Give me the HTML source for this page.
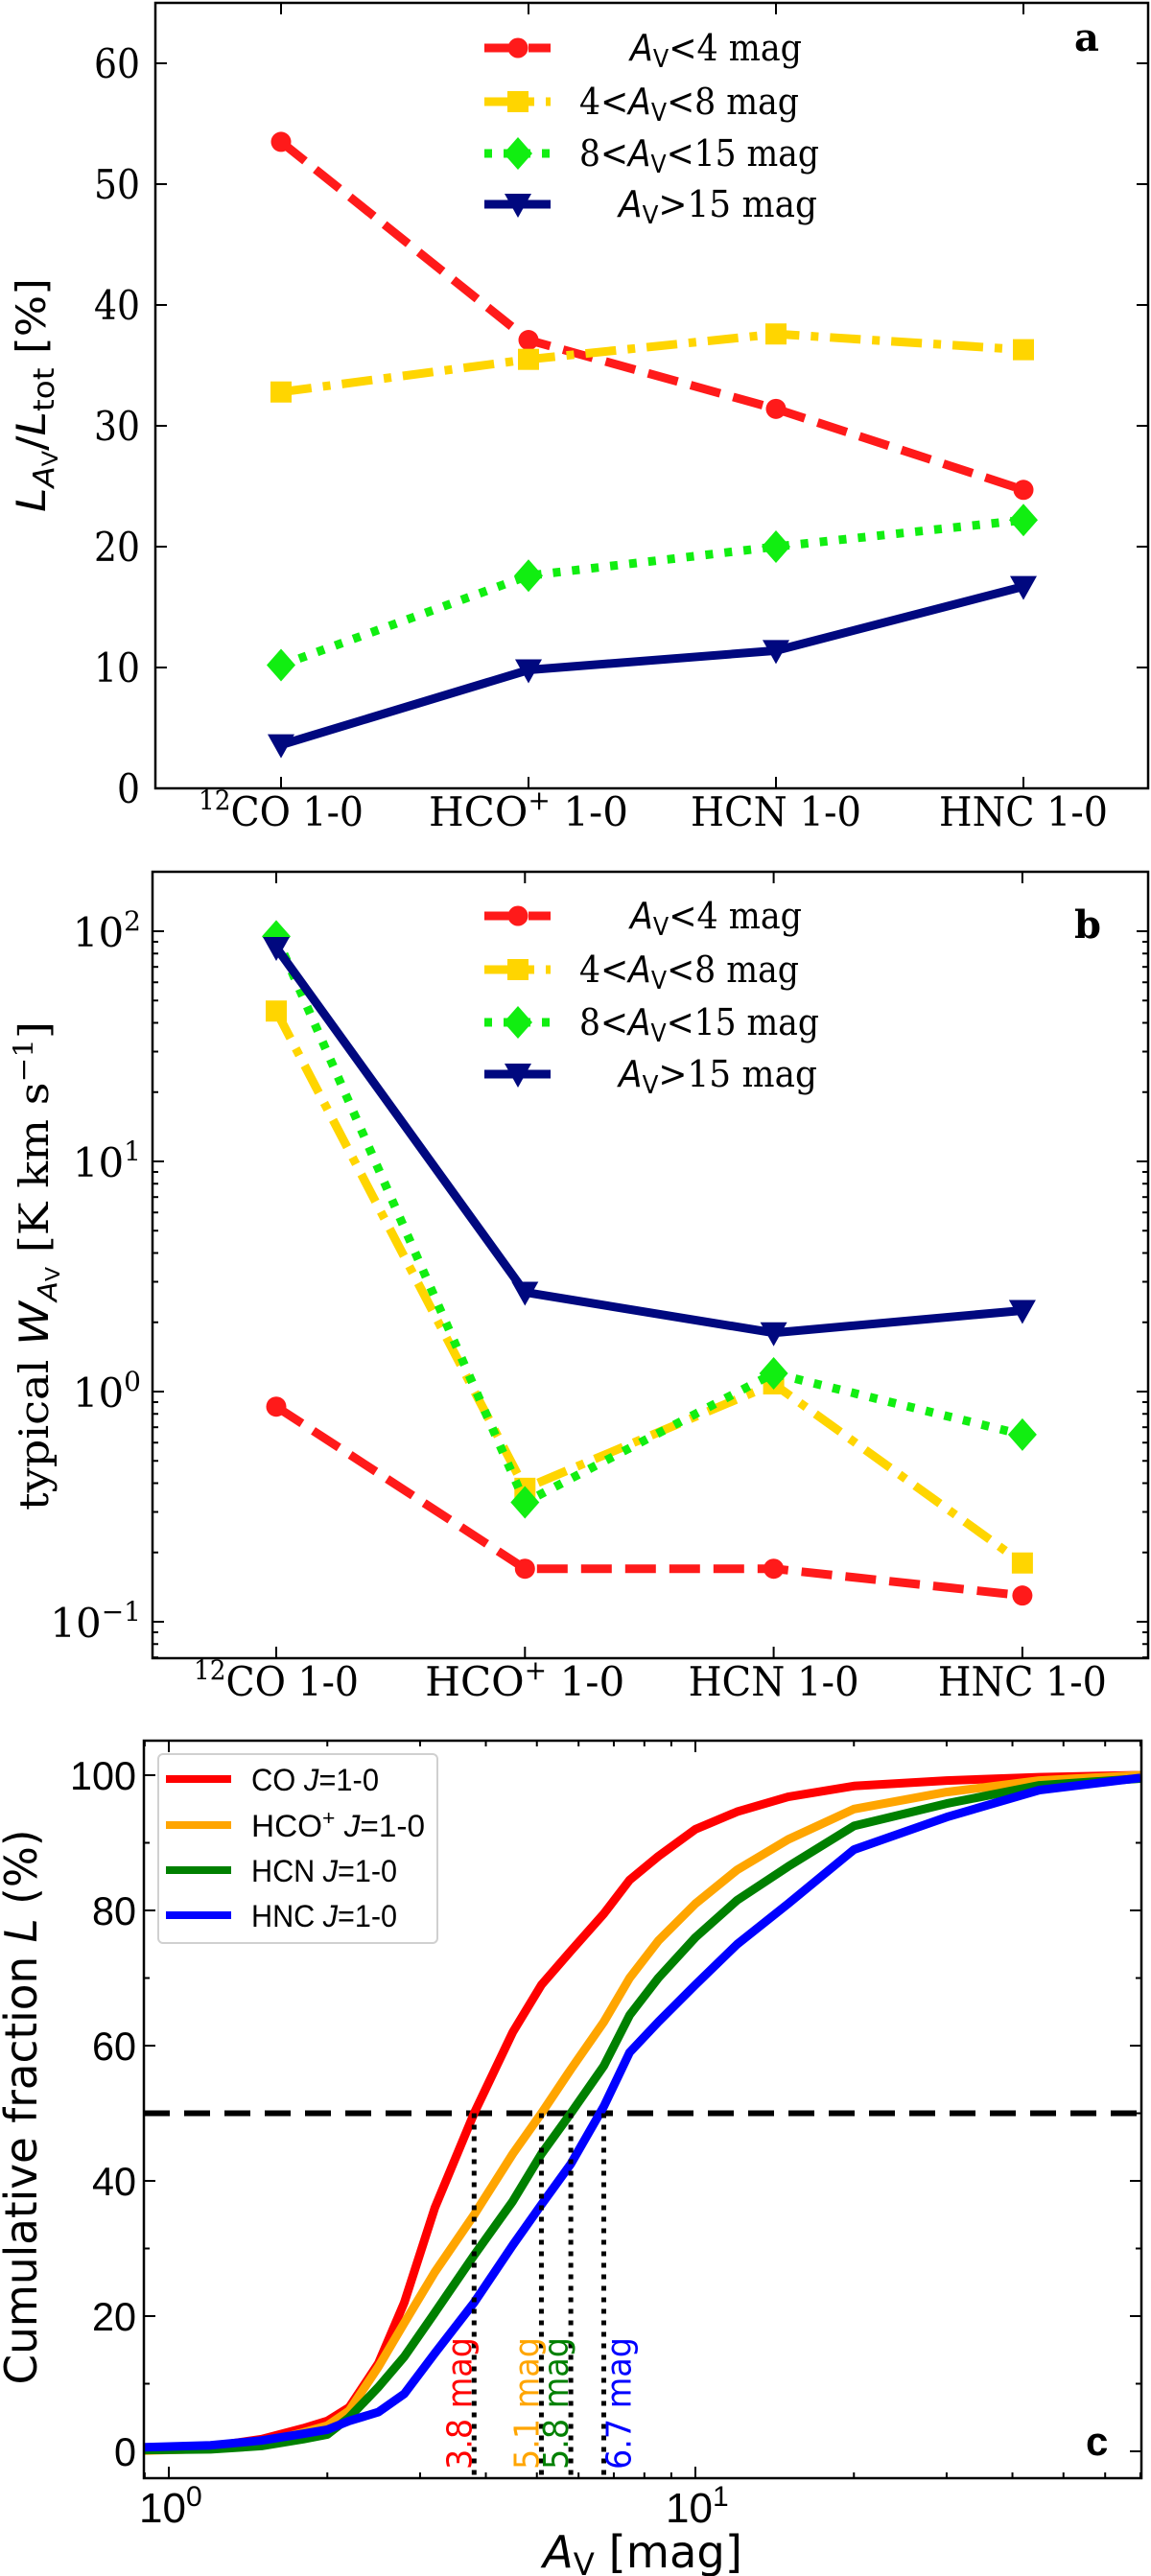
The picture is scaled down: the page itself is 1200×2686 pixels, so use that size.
<!DOCTYPE html>
<html><head><meta charset="utf-8"><style>
html,body{margin:0;padding:0;background:#fff;}
svg{display:block;}
.serif{font-family:"DejaVu Serif","Liberation Serif",serif;}
.sans{font-family:"DejaVu Sans","Liberation Sans",sans-serif;}
.lsans{font-family:"Liberation Sans",sans-serif;}
</style></head><body>
<svg id="fig" xmlns="http://www.w3.org/2000/svg" width="1200" height="2686" viewBox="0 0 1200 2686">
<rect width="1200" height="2686" fill="#fff"/>
<g id="pa"></g>
<g id="pb"></g>
<g id="pc"></g>

<text class="sans" transform="translate(47,412) rotate(-90)" text-anchor="middle" font-size="42" textLength="244" lengthAdjust="spacingAndGlyphs"><tspan font-style="italic">L</tspan><tspan font-size="30" dy="9" font-style="italic">A</tspan><tspan font-size="22" dy="4">V</tspan><tspan dy="-13">/</tspan><tspan font-style="italic">L</tspan><tspan font-size="30" dy="9">tot</tspan><tspan dy="-9"> [%]</tspan></text>
<text class="serif" x="1120" y="53" font-size="40" font-weight="bold">a</text>

<text class="serif" transform="translate(50,1320) rotate(-90)" text-anchor="middle" font-size="42" textLength="510" lengthAdjust="spacingAndGlyphs">typical <tspan class="sans" font-style="italic">W</tspan><tspan class="sans" font-size="28" dy="9" font-style="italic">A</tspan><tspan class="sans" font-size="20" dy="3">V</tspan><tspan dy="-12"> [K km s</tspan><tspan font-size="28" dy="-16">−1</tspan><tspan dy="16">]</tspan></text>
<text class="serif" x="1120" y="978" font-size="40" font-weight="bold">b</text>

<text class="sans" transform="translate(38,2197) rotate(-90)" text-anchor="middle" font-size="46" textLength="579" lengthAdjust="spacingAndGlyphs">Cumulative fraction <tspan font-style="italic">L</tspan> (%)</text>
<text class="sans" x="566" y="2677" font-size="46" textLength="208" lengthAdjust="spacingAndGlyphs"><tspan font-style="italic">A</tspan><tspan font-size="32" dy="8">V</tspan><tspan dy="-8"> [mag]</tspan></text>
<text class="lsans" x="1132" y="2560" font-size="42" font-weight="bold">c</text>
</svg>
<script>
// ---------- DATA ----------
const categories = ['12CO', 'HCO+', 'HCN', 'HNC'];
const aRed = [53.5, 37.1, 31.4, 24.7];
const aYellow = [32.8, 35.5, 37.6, 36.3];
const aGreen = [10.2, 17.6, 20.0, 22.2];
const aNavy = [3.6, 9.8, 11.4, 16.7];
const aTicks = [0, 10, 20, 30, 40, 50, 60];

const bRed = [0.86, 0.17, 0.17, 0.13];
const bYellow = [45, 0.38, 1.08, 0.18];
const bGreen = [95, 0.33, 1.2, 0.65];
const bNavy = [85, 2.7, 1.8, 2.25];
const bTickExp = [-1, 0, 1, 2];

const cAv = [0.9, 1.2, 1.5, 1.8, 2.0, 2.2, 2.5, 2.8, 3.2, 3.8, 4.5, 5.1, 5.8, 6.7, 7.5, 8.5, 10, 12, 15, 20, 30, 45, 70];
const cCO = [0.2, 0.7, 1.8, 3.4, 4.5, 6.5, 13, 22, 36, 50, 62, 69, 74, 79.5, 84.5, 88, 92, 94.6, 96.8, 98.4, 99.2, 99.7, 100];
const cHCOp = [0.1, 0.4, 1.2, 2.8, 3.8, 6, 12.5, 19, 26.5, 35, 44, 50, 56.5, 63.5, 70, 75.5, 81, 86, 90.5, 95, 97.5, 99.2, 100];
const cHCN = [0.2, 0.3, 0.8, 1.8, 2.5, 5, 9.5, 14, 20.5, 29, 37, 44, 50, 57, 64.5, 70, 76, 81.5, 86.5, 92.5, 95.8, 98.5, 99.5];
const cHNC = [0.6, 0.9, 1.6, 2.6, 3.2, 4.5, 5.8, 8.5, 14.5, 22, 30.5, 36.5, 42.5, 51, 59, 63.5, 69, 75, 81, 89, 93.8, 97.8, 99.6];
const cMedians = [3.8, 5.1, 5.8, 6.7];
const cYTicks = [0, 20, 40, 60, 80, 100];

// ---------- helpers ----------
const NS = 'http://www.w3.org/2000/svg';
function mk(parent, tag, attrs, name) {
  const el = document.createElementNS(NS, tag);
  for (const k in attrs) el.setAttribute(k, attrs[k]);
  
  
  parent.appendChild(el);
  return el;
}
function marker(g, type, x, y, color, name) {
  if (type === 'circle') return mk(g, 'circle', {cx: x, cy: y, r: 10.5, fill: color}, name);
  if (type === 'square') return mk(g, 'rect', {x: x - 11, y: y - 11, width: 22, height: 22, fill: color}, name);
  if (type === 'diamond') return mk(g, 'polygon', {points: `${x},${y-17} ${x+15},${y} ${x},${y+17} ${x-15},${y}`, fill: color}, name);
  return mk(g, 'polygon', {points: `${x-14},${y-11} ${x+14},${y-11} ${x},${y+14}`, fill: color}, name);
}
const seriesStyle = [
  {name: 'av-lt-4', color: '#ff1a1a', dash: '32,14', m: 'circle'},
  {name: 'av-4-8', color: '#ffd500', dash: '32,12,8,12', m: 'square'},
  {name: 'av-8-15', color: '#11ee11', dash: '8,12', m: 'diamond'},
  {name: 'av-gt-15', color: '#00087f', dash: 'none', m: 'tri'}
];

function legend(g, rows, prefix) {
  const labels = [
    ['', '<4 mag', 657, 179],
    ['4<', '<8 mag', 604, 229],
    ['8<', '<15 mag', 604, 250],
    ['', '>15 mag', 645, 207]
  ];
  rows.forEach((y, k) => {
    const st = seriesStyle[k];
    mk(g, 'line', {x1: 505, x2: 574, y1: y, y2: y, stroke: st.color, 'stroke-width': 9, 'stroke-dasharray': st.dash}, prefix + '-legend-line-' + st.name);
    marker(g, st.m, 540, y, st.color, prefix + '-legend-marker-' + st.name);
    const lb = labels[k];
    const t = mk(g, 'text', {x: lb[2], y: y + 13, 'font-size': 38, class: 'serif', textLength: lb[3], lengthAdjust: 'spacingAndGlyphs'}, prefix + '-legend-label-' + st.name);
    t.innerHTML = lb[0] + '<tspan class="sans" font-style="italic">A</tspan><tspan class="sans" font-size="26" dy="7">V</tspan><tspan dy="-7">' + lb[1].replace('<', '&lt;').replace('>', '&gt;') + '</tspan>';
  });
}
function catLabels(g, xf, yBase) {
  const lens = [172, 208, 178, 176];
  categories.forEach((c, i) => {
    const t = mk(g, 'text', {x: xf(i), y: yBase, 'text-anchor': 'middle', 'font-size': 42, class: 'serif', textLength: lens[i], lengthAdjust: 'spacingAndGlyphs'}, 'x-tick-label');
    if (i === 0) t.innerHTML = '<tspan font-size="28" dy="-17">12</tspan><tspan dy="17">CO 1-0</tspan>';
    else if (i === 1) t.innerHTML = 'HCO<tspan font-size="28" dy="-17">+</tspan><tspan dy="17"> 1-0</tspan>';
    else t.textContent = c + ' 1-0';
  });
}

// ---------- Panel A ----------
(function () {
  const g = document.getElementById('pa');
  const L = 162, R = 1197, T = 3, B = 822;
  const xA = i => 293 + 258 * i;
  const yA = v => 822 - v * 12.6;
  mk(g, 'rect', {x: L, y: T, width: R - L, height: B - T, fill: 'none', stroke: '#000', 'stroke-width': 2.5}, 'panel-a-frame');
  aTicks.forEach(v => {
    const y = yA(v);
    mk(g, 'line', {x1: L, x2: L + 12, y1: y, y2: y, stroke: '#000', 'stroke-width': 2}, 'y-tick');
    mk(g, 'line', {x1: R - 12, x2: R, y1: y, y2: y, stroke: '#000', 'stroke-width': 2}, 'y-tick-right');
    const t = mk(g, 'text', {x: 146, y: y + 15, 'text-anchor': 'end', 'font-size': 42, class: 'serif', textLength: String(v).length * 24, lengthAdjust: 'spacingAndGlyphs'}, 'y-tick-label');
    t.textContent = v;
  });
  categories.forEach((c, i) => {
    const x = xA(i);
    mk(g, 'line', {x1: x, x2: x, y1: B, y2: B - 12, stroke: '#000', 'stroke-width': 2}, 'x-tick');
    mk(g, 'line', {x1: x, x2: x, y1: T, y2: T + 12, stroke: '#000', 'stroke-width': 2}, 'x-tick-top');
  });
  catLabels(g, xA, 861);
  [aRed, aYellow, aGreen, aNavy].forEach((s, k) => {
    const st = seriesStyle[k];
    const pts = s.map((v, i) => xA(i) + ',' + yA(v)).join(' ');
    mk(g, 'polyline', {points: pts, fill: 'none', stroke: st.color, 'stroke-width': 9, 'stroke-dasharray': st.dash, 'stroke-linejoin': 'round'}, 'line-' + st.name);
    s.forEach((v, i) => marker(g, st.m, xA(i), yA(v), st.color, 'point-' + st.name));
  });
  legend(g, [50, 106, 160, 213], 'panel-a');
})();

// ---------- Panel B ----------
(function () {
  const g = document.getElementById('pb');
  const L = 159, R = 1197, T = 909, B = 1729;
  const xB = i => 288 + 259.3 * i;
  const yB = v => 1451 - 240 * Math.log10(v);
  mk(g, 'rect', {x: L, y: T, width: R - L, height: B - T, fill: 'none', stroke: '#000', 'stroke-width': 2.5}, 'panel-b-frame');
  for (let e = -2; e <= 2; e++) {
    for (let m = 1; m <= 9; m++) {
      const y = yB(m * Math.pow(10, e));
      if (y < T || y > B) continue;
      const len = m === 1 ? 12 : 6;
      mk(g, 'line', {x1: L, x2: L + len, y1: y, y2: y, stroke: '#000', 'stroke-width': 2}, m === 1 ? 'y-tick' : 'y-minor-tick');
      mk(g, 'line', {x1: R - len, x2: R, y1: y, y2: y, stroke: '#000', 'stroke-width': 2}, m === 1 ? 'y-tick-right' : 'y-minor-tick-right');
    }
  }
  bTickExp.forEach(e => {
    const y = yB(Math.pow(10, e));
    const t = mk(g, 'text', {x: 147, y: y + 16, 'text-anchor': 'end', 'font-size': 42, class: 'serif'}, 'y-tick-label');
    t.innerHTML = '10<tspan font-size="28" dy="-17">' + (e < 0 ? '−' : '') + Math.abs(e) + '</tspan>';
  });
  categories.forEach((c, i) => {
    const x = xB(i);
    mk(g, 'line', {x1: x, x2: x, y1: B, y2: B - 12, stroke: '#000', 'stroke-width': 2}, 'x-tick');
    mk(g, 'line', {x1: x, x2: x, y1: T, y2: T + 12, stroke: '#000', 'stroke-width': 2}, 'x-tick-top');
  });
  catLabels(g, xB, 1768);
  [bRed, bYellow, bGreen, bNavy].forEach((s, k) => {
    const st = seriesStyle[k];
    const pts = s.map((v, i) => xB(i) + ',' + yB(v)).join(' ');
    mk(g, 'polyline', {points: pts, fill: 'none', stroke: st.color, 'stroke-width': 9, 'stroke-dasharray': st.dash, 'stroke-linejoin': 'round'}, 'line-' + st.name);
    s.forEach((v, i) => marker(g, st.m, xB(i), yB(v), st.color, 'point-' + st.name));
  });
  legend(g, [955, 1011, 1066, 1120], 'panel-b');
})();

// ---------- Panel C ----------
(function () {
  const g = document.getElementById('pc');
  const L = 150, R = 1190, T = 1815, B = 2584;
  const xC = a => 176 + 549 * Math.log10(a);
  const yC = p => 2556 - p * 7.05;
  for (let v = 0; v <= 100; v += 10) {
    const y = yC(v);
    const len = v % 20 === 0 ? 12 : 6;
    mk(g, 'line', {x1: L, x2: L + len, y1: y, y2: y, stroke: '#000', 'stroke-width': 2}, v % 20 === 0 ? 'y-tick' : 'y-minor-tick');
    mk(g, 'line', {x1: R - len, x2: R, y1: y, y2: y, stroke: '#000', 'stroke-width': 2}, v % 20 === 0 ? 'y-tick-right' : 'y-minor-tick-right');
  }
  cYTicks.forEach(v => {
    const t = mk(g, 'text', {x: 142, y: yC(v) + 15, 'text-anchor': 'end', 'font-size': 42, class: 'lsans', textLength: String(v).length * 23, lengthAdjust: 'spacingAndGlyphs'}, 'y-tick-label');
    t.textContent = v;
  });
  for (let e = -1; e <= 1; e++) {
    for (let m = 1; m <= 9; m++) {
      const x = xC(m * Math.pow(10, e));
      if (x < L || x > R) continue;
      const len = m === 1 ? 12 : 6;
      mk(g, 'line', {x1: x, x2: x, y1: B, y2: B - len, stroke: '#000', 'stroke-width': 2}, m === 1 ? 'x-tick' : 'x-minor-tick');
      mk(g, 'line', {x1: x, x2: x, y1: T, y2: T + len, stroke: '#000', 'stroke-width': 2}, m === 1 ? 'x-tick-top' : 'x-minor-tick-top');
    }
  }
  [0, 1].forEach(e => {
    const t = mk(g, 'text', {x: xC(Math.pow(10, e)) - 31, y: 2630, 'font-size': 44, class: 'lsans'}, 'x-tick-label');
    t.innerHTML = '10<tspan font-size="30" dy="-17">' + e + '</tspan>';
  });
  mk(g, 'line', {x1: L, x2: R, y1: yC(50), y2: yC(50), stroke: '#000', 'stroke-width': 6, 'stroke-dasharray': '27,15'}, 'half-line');
  const cols = ['#ff0000', '#ffa500', '#008000', '#0000ff'];
  const names = ['co', 'hcop', 'hcn', 'hnc'];
  [cCO, cHCOp, cHCN, cHNC].forEach((s, k) => {
    const pts = s.map((p, i) => xC(cAv[i]).toFixed(1) + ',' + yC(p).toFixed(1)).join(' ');
    mk(g, 'polyline', {points: pts, fill: 'none', stroke: cols[k], 'stroke-width': 9, 'stroke-linejoin': 'round'}, 'curve-' + names[k]);
  });
  cMedians.forEach((m, k) => {
    const x = xC(m);
    mk(g, 'line', {x1: x, x2: x, y1: yC(50), y2: B, stroke: '#000', 'stroke-width': 5, 'stroke-dasharray': '5,7'}, 'median-line-' + names[k]);
    const lx = k === 3 ? x + 28 : x - 3;
    const t = mk(g, 'text', {transform: `translate(${lx},2575) rotate(-90)`, 'font-size': 36, class: 'sans', fill: cols[k], textLength: 138, lengthAdjust: 'spacingAndGlyphs'}, 'median-label-' + names[k]);
    t.textContent = m.toFixed(1) + '  mag';
  });
  mk(g, 'rect', {x: L, y: T, width: R - L, height: B - T, fill: 'none', stroke: '#000', 'stroke-width': 2.5}, 'panel-c-frame');
  const lg = mk(g, 'g', {}, 'panel-c-legend');
  mk(lg, 'rect', {x: 165, y: 1829, width: 291, height: 197, rx: 5, fill: '#fff', 'fill-opacity': 0.85, stroke: '#d0d0d0', 'stroke-width': 2}, 'legend-box');
  const rowsY = [1855, 1903, 1950, 1997];
  const lab = ['CO <tspan font-style="italic">J</tspan>=1-0', 'HCO<tspan font-size="22" dy="-12">+</tspan><tspan dy="12"> </tspan><tspan font-style="italic">J</tspan>=1-0', 'HCN <tspan font-style="italic">J</tspan>=1-0', 'HNC <tspan font-style="italic">J</tspan>=1-0'];
  const lw = [133, 181, 152, 152];
  rowsY.forEach((y, k) => {
    mk(lg, 'line', {x1: 173, x2: 241, y1: y, y2: y, stroke: cols[k], 'stroke-width': 8}, 'legend-line-' + names[k]);
    const t = mk(lg, 'text', {x: 262, y: y + 12, 'font-size': 32, class: 'lsans', textLength: lw[k], lengthAdjust: 'spacingAndGlyphs'}, 'legend-label-' + names[k]);
    t.innerHTML = lab[k];
  });
})();
</script>
</body></html>
